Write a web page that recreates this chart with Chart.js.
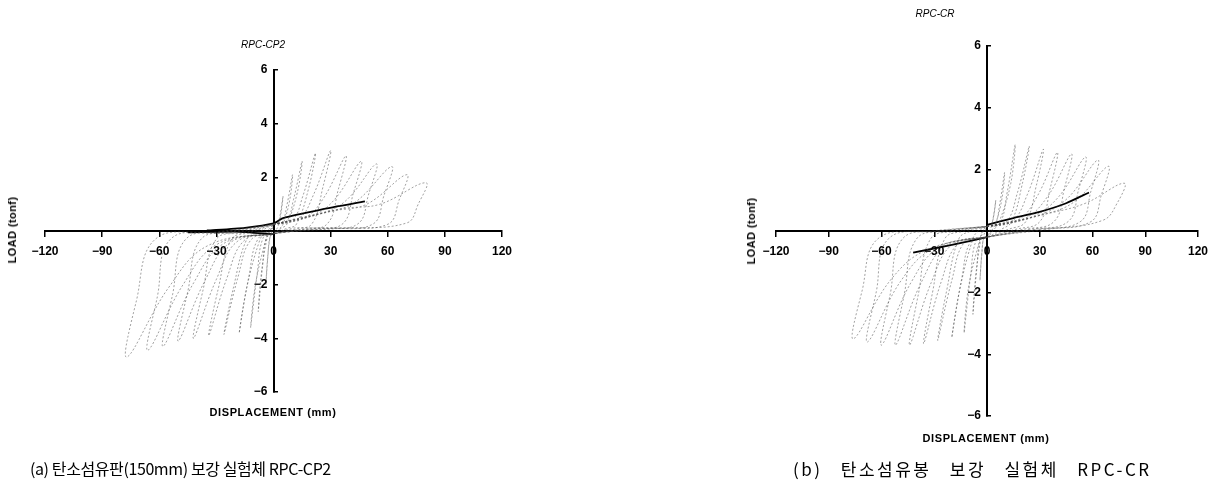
<!DOCTYPE html>
<html>
<head>
<meta charset="utf-8">
<script src="https://cdn.jsdelivr.net/npm/chart.js@4/dist/chart.umd.min.js"></script>
<style>
  body { margin: 0; background: #fff; width: 1220px; height: 487px; position: relative; overflow: hidden; }
  .box { position: absolute; top: 0; width: 610px; height: 487px; }
  .txt { position: absolute; white-space: nowrap; color: #000; font-family: "Liberation Sans", Arial, sans-serif; }
  .ttl { font-size: 10px; font-style: italic; transform: translate(-50%, -50%); }
  .xt { font-size: 11px; font-weight: bold; letter-spacing: 0.6px; transform: translate(-50%, -50%); }
  .yt { font-size: 11px; font-weight: bold; letter-spacing: 0.4px; transform: translate(-50%, -50%) rotate(-90deg); }
  .cap { font-family: "Noto Sans CJK KR", sans-serif; font-size: 16px; font-weight: 400; transform: translateY(-50%); }
</style>
</head>
<body>
<div class="box" style="left:0"><canvas id="cp2"></canvas></div>
<div class="box" style="left:610px"><canvas id="cr"></canvas></div>

<div class="txt ttl" style="left:263px; top:44px">RPC-CP2</div>
<div class="txt xt" style="left:273px; top:412px">DISPLACEMENT (mm)</div>
<div class="txt yt" style="left:12px; top:230px">LOAD (tonf)</div>
<div class="txt cap" style="left:30px; top:468px; letter-spacing:-0.4px">(a) 탄소섬유판(150mm) 보강 실험체 RPC-CP2</div>

<div class="txt ttl" style="left:935px; top:13px">RPC-CR</div>
<div class="txt xt" style="left:986px; top:438px">DISPLACEMENT (mm)</div>
<div class="txt yt" style="left:751px; top:231px">LOAD (tonf)</div>
<div class="txt cap" style="left:793px; top:468px; font-size:17px; letter-spacing:2.5px; word-spacing:12px">(b) 탄소섬유봉 보강 실험체 RPC-CR</div>

<script>
// axis ticks (mm, tonf)
const xTicks = [-120, -90, -60, -30, 0, 30, 60, 90, 120];
const yTicks = [-6, -4, -2, 0, 2, 4, 6];

// RPC-CP2 : load cycles [displacement mm, load tonf]
const cp2Loops = [
  [[0,0.25],[2.2,0.3],[3.5,0.6],[5,1.3],[4,0.7],[2.5,0.2],[1.5,0.05],[0,-0.1],[-1.8,-0.22],[-2.9,-0.9],[-4,-2.0],[-3.2,-1.1],[-2,-0.3],[-1,-0.05],[0,0.25]],
  [[0,0.25],[4.5,0.33],[7,0.95],[10,2.1],[8.5,1.15],[5,0.25],[3,0.08],[0,-0.1],[-3.6,-0.24],[-5.8,-1.35],[-8,-3.0],[-6.5,-1.65],[-3.5,-0.3],[-2,-0.05],[0,0.25]],
  [[0,0.25],[6.8,0.36],[10.5,1.17],[15,2.6],[12.5,1.43],[7,0.25],[4,0.1],[0,-0.1],[-5.4,-0.25],[-8.6,-1.62],[-12,-3.6],[-9.5,-2.0],[-4,-0.3],[-2.5,-0.05],[0,0.25]],
  [[0,0.25],[10,0.41],[15.4,1.3],[22,2.9],[18.5,1.6],[12,0.25],[7,0.1],[0,-0.1],[-8,-0.28],[-13,-1.71],[-18,-3.8],[-14,-2.1],[-7,-0.3],[-4,-0.05],[0,0.25]],
  [[0,0.25],[13.5,0.47],[21,1.35],[30,3.0],[26,1.65],[20,0.25],[10,0.1],[0,-0.1],[-11.7,-0.32],[-18.7,-1.73],[-26,-3.85],[-21,-2.1],[-14,-0.3],[-8,-0.05],[0,0.25]],
  [[0,0.25],[17,0.52],[26.6,1.26],[38,2.8],[34,1.54],[28,0.25],[14,0.1],[0,-0.1],[-15.3,-0.35],[-24.5,-1.76],[-34,-3.9],[-29,-2.15],[-22,-0.3],[-12,-0.05],[0,0.25]],
  [[0,0.25],[20.7,0.58],[32,1.17],[46,2.6],[42,1.43],[36,0.25],[18,0.1],[0,-0.1],[-19,-0.39],[-30,-1.8],[-42,-4.0],[-37,-2.2],[-30,-0.3],[-15,-0.05],[0,0.25]],
  [[0,0.25],[24.3,0.64],[38,1.13],[54,2.5],[50,1.38],[44,0.25],[22,0.1],[0,-0.1],[-22.5,-0.42],[-36,-1.85],[-50,-4.1],[-45,-2.25],[-38,-0.3],[-19,-0.05],[0,0.25]],
  [[0,0.25],[28,0.7],[43,1.08],[62,2.4],[58,1.32],[52,0.25],[26,0.1],[0,-0.1],[-26,-0.46],[-42,-1.94],[-58,-4.3],[-53,-2.37],[-46,-0.3],[-23,-0.05],[0,0.25]],
  [[0,0.25],[31.5,0.75],[49,1.0],[70,2.1],[66,1.16],[60,0.25],[30,0.1],[0,-0.1],[-29.7,-0.5],[-47.5,-2.0],[-66,-4.45],[-61,-2.45],[-54,-0.3],[-27,-0.05],[0,0.25]],
  [[0,0.25],[36,0.83],[56,1.0],[80,1.8],[76,1.0],[70,0.3],[35,0.1],[0,-0.1],[-34.6,-0.55],[-55,-2.1],[-77,-4.7],[-72,-2.6],[-62,-0.3],[-31,-0.05],[0,0.25]]
];
// RPC-CP2 : dark pinched branches near the origin
const cp2Backbone = [
  [[-35,0.02],[-15,0.12],[0,0.28],[5,0.48],[25,0.8],[48,1.1]],
  [[-45,-0.05],[-20,-0.02],[0,-0.12]]
];

// RPC-CR : load cycles [displacement mm, load tonf]
const crLoops = [
  [[0,0.15],[2.2,0.18],[3.6,0.45],[5,1.0],[4,0.55],[2.5,0.15],[1.5,0.02],[0,-0.2],[-1.8,-0.22],[-2.9,-0.72],[-4,-1.6],[-3.2,-0.88],[-2,-0.2],[-1,0.0],[0,0.15]],
  [[0,0.15],[4.5,0.2],[7.2,0.86],[10,1.9],[8.5,1.05],[5,0.25],[3,0.05],[0,-0.2],[-3.6,-0.24],[-5.8,-1.22],[-8,-2.7],[-6.5,-1.49],[-3.5,-0.25],[-2,0.0],[0,0.15]],
  [[0,0.15],[7.2,0.24],[11.5,1.26],[16,2.8],[13.5,1.54],[7,0.3],[4,0.05],[0,-0.2],[-5.9,-0.27],[-9.4,-1.49],[-13,-3.3],[-10.5,-1.82],[-4,-0.25],[-2.5,0.0],[0,0.15]],
  [[0,0.15],[10.8,0.28],[17.3,1.24],[24,2.75],[20,1.51],[14,0.3],[8,0.05],[0,-0.2],[-9,-0.31],[-14.4,-1.55],[-20,-3.45],[-15.5,-1.9],[-8,-0.25],[-5,0.0],[0,0.15]],
  [[0,0.15],[14.4,0.32],[23,1.19],[32,2.65],[28,1.46],[22,0.3],[12,0.05],[0,-0.2],[-12.6,-0.35],[-20,-1.6],[-28,-3.55],[-23,-1.95],[-16,-0.25],[-9,0.0],[0,0.15]],
  [[0,0.15],[18,0.37],[28.8,1.15],[40,2.55],[36,1.4],[30,0.3],[16,0.05],[0,-0.2],[-16.2,-0.39],[-26,-1.64],[-36,-3.65],[-31,-2.0],[-24,-0.25],[-13,0.0],[0,0.15]],
  [[0,0.15],[21.6,0.41],[34.6,1.13],[48,2.5],[44,1.38],[38,0.3],[20,0.05],[0,-0.2],[-19.8,-0.44],[-31.7,-1.67],[-44,-3.7],[-39,-2.04],[-32,-0.25],[-17,0.0],[0,0.15]],
  [[0,0.15],[25.2,0.45],[40.3,1.08],[56,2.4],[52,1.32],[46,0.3],[24,0.05],[0,-0.2],[-23.4,-0.48],[-37.4,-1.67],[-52,-3.7],[-47,-2.04],[-40,-0.25],[-21,0.0],[0,0.15]],
  [[0,0.15],[28.4,0.49],[45.4,1.04],[63,2.3],[59,1.27],[53,0.3],[27,0.05],[0,-0.2],[-27,-0.52],[-43.2,-1.67],[-60,-3.7],[-55,-2.04],[-48,-0.25],[-25,0.0],[0,0.15]],
  [[0,0.15],[31,0.52],[49.7,0.95],[69,2.1],[65,1.16],[59,0.3],[30,0.05],[0,-0.2],[-30.6,-0.57],[-49,-1.62],[-68,-3.6],[-63,-1.98],[-56,-0.25],[-28,0.0],[0,0.15]],
  [[0,0.15],[35,0.57],[56,0.9],[78,1.55],[74,0.9],[66,0.35],[34,0.05],[0,-0.2],[-34.2,-0.61],[-54.7,-1.58],[-76,-3.5],[-71,-1.93],[-62,-0.25],[-31,0.0],[0,0.15]]
];
const crBackbone = [
  [[0,0.2],[15,0.42],[30,0.62],[45,0.9],[58,1.25]],
  [[-42,-0.7],[-20,-0.45],[0,-0.2]]
];

function toXY(pts) {
  return pts.map(p => ({x: p[0], y: p[1]}));
}

function tickText(v) {
  return String(v).replace('-', '\u2212');
}

function makeChart(id, loops, backbone, pad) {
  const datasets = [];
  loops.forEach(loop => {
    datasets.push({
      data: toXY(loop),
      borderColor: 'rgba(70,70,70,0.5)',
      borderWidth: 1,
      borderDash: [2, 2],
      tension: 0.4
    });
  });
  backbone.forEach(line => {
    datasets.push({
      data: toXY(line),
      borderColor: '#000',
      borderWidth: 1.8,
      tension: 0.2
    });
  });

  new Chart(document.getElementById(id), {
    type: 'scatter',
    data: { datasets: datasets },
    options: {
      responsive: true,
      maintainAspectRatio: false,
      animation: false,
      layout: { padding: pad },
      elements: { point: { radius: 0 } },
      datasets: { scatter: { showLine: true, fill: false } },
      plugins: { legend: { display: false }, tooltip: { enabled: false } },
      scales: {
        x: {
          type: 'linear',
          position: { y: 0 },
          min: -120, max: 120,
          afterBuildTicks: s => { s.ticks = xTicks.map(v => ({value: v})); },
          ticks: {
            padding: 8,
            color: '#000',
            font: { family: 'Liberation Sans', size: 12, weight: 'bold' },
            callback: v => tickText(v)
          },
          grid: { drawOnChartArea: false, drawTicks: true, tickLength: 5, color: '#000', lineWidth: 1.5 },
          border: { display: true, color: '#000', width: 2 }
        },
        y: {
          type: 'linear',
          position: { x: 0 },
          min: -6, max: 6,
          afterBuildTicks: s => { s.ticks = yTicks.map(v => ({value: v})); },
          ticks: {
            color: '#000',
            font: { family: 'Liberation Sans', size: 12, weight: 'bold' },
            // label sits right-aligned on the axis, so pad it with an en space
            callback: v => (v === 0 ? '' : tickText(v) + '\u2002')
          },
          grid: { drawOnChartArea: false, drawTicks: true, tickLength: -5, color: '#000', lineWidth: 1.5 },
          border: { display: true, color: '#000', width: 2 }
        }
      }
    }
  });
}

makeChart('cp2', cp2Loops, cp2Backbone, { left: 45, right: 108, top: 70, bottom: 95 });
makeChart('cr', crLoops, crBackbone, { left: 166, right: 22, top: 46, bottom: 71 });
</script>
</body>
</html>
